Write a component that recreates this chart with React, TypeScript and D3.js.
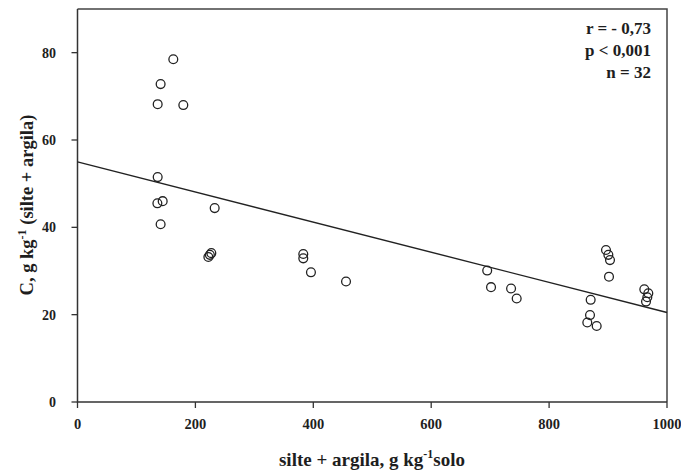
import React from "react";
import * as d3 from "d3";

// silte + argila (g kg-1 solo)
const xValues = [
  162.5, 141, 136, 179.5, 136, 135.5, 144.5, 141, 232.7,
  222, 224.5, 227,
  383, 383, 396, 455.5,
  695, 701.5, 735.5, 745,
  896.5, 900.5, 903.3, 901.6, 870.5, 869.4, 864.8, 880.7,
  961.5, 968.3, 966.6, 964.4,
];
// C, g kg-1 (silte + argila)
const yValues = [
  78.5, 72.8, 68.2, 68.0, 51.5, 45.5, 46.0, 40.7, 44.4,
  33.2, 33.7, 34.1,
  33.9, 32.9, 29.7, 27.6,
  30.1, 26.3, 26.0, 23.7,
  34.8, 33.7, 32.5, 28.7, 23.4, 19.9, 18.2, 17.4,
  25.8, 24.9, 24.0, 23.0,
];
// regression line end points
const regX = [0, 1000];
const regY = [55.0, 20.5];

const xTicks = [0, 200, 400, 600, 800, 1000];
const yTicks = [0, 20, 40, 60, 80];
const statsLines = ["r = - 0,73", "p < 0,001", "n = 32"];

const W = 681;
const H = 473;
const FONT = "Liberation Serif, Times New Roman, serif";
const INK = "#1e1e1e";

export default function App() {
  const x = d3.scaleLinear().domain([0, 1000]).range([77.5, 667]);
  const y = d3.scaleLinear().domain([0, 90]).range([402, 9]);
  const line = d3
    .line<number>()
    .x((_, i) => x(regX[i]))
    .y((d) => y(d));
  const [x0, x1] = x.range();
  const [y0, y1] = y.range();

  return (
    <svg
      width={W}
      height={H}
      style={{ position: "absolute", left: 0, top: 0, background: "#fff", fontFamily: FONT }}
    >
      <rect x={0} y={0} width={W} height={H} fill="#fff" />
      {/* frame */}
      <path
        d={`M${x0},${y1}H${x1}V${y0}`}
        fill="none"
        stroke="#444"
        strokeWidth={1.5}
      />
      <path
        d={`M${x0},${y1}V${y0}H${x1}`}
        fill="none"
        stroke="#333"
        strokeWidth={1.5}
      />
      {/* y ticks */}
      {yTicks.map((t) => (
        <g key={"y" + t}>
          <line x1={x0 - 6} x2={x0} y1={y(t)} y2={y(t)} stroke="#333" strokeWidth={1.3} />
          <text
            x={56}
            y={y(t)}
            dy="0.35em"
            textAnchor="end"
            fontSize={14}
            fontWeight="bold"
            fill={INK}
          >
            {t}
          </text>
        </g>
      ))}
      {/* x ticks */}
      {xTicks.map((t) => (
        <g key={"x" + t}>
          <line x1={x(t)} x2={x(t)} y1={y0} y2={y0 + 6} stroke="#333" strokeWidth={1.3} />
          <text
            x={x(t)}
            y={429}
            textAnchor="middle"
            fontSize={14.5}
            fontWeight="bold"
            fill={INK}
          >
            {t}
          </text>
        </g>
      ))}
      {/* regression line */}
      <path d={line(regY) || ""} fill="none" stroke="#222" strokeWidth={1.4} />
      {/* points */}
      {xValues.map((v, i) => (
        <circle
          key={i}
          cx={x(v)}
          cy={y(yValues[i])}
          r={4.4}
          fill="none"
          stroke="#222"
          strokeWidth={1.3}
        />
      ))}
      {/* stats */}
      {statsLines.map((s, i) => (
        <text
          key={s}
          x={651}
          y={34 + i * 22}
          textAnchor="end"
          fontSize={17}
          fontWeight="bold"
          fill={INK}
        >
          {s}
        </text>
      ))}
      {/* x title */}
      <text
        x={372}
        y={466}
        textAnchor="middle"
        fontSize={19}
        fontWeight="bold"
        fill={INK}
      >
        silte + argila, g kg
        <tspan dy={-8} fontSize={12}>
          -1
        </tspan>
        <tspan dy={8}>solo</tspan>
      </text>
      {/* y title */}
      <text
        transform={`translate(33,205) rotate(-90)`}
        textAnchor="middle"
        fontSize={18.5}
        fontWeight="bold"
        fill={INK}
      >
        C, g kg
        <tspan dy={-7} fontSize={12}>
          -1
        </tspan>
        <tspan dy={7}> (silte + argila)</tspan>
      </text>
    </svg>
  );
}
